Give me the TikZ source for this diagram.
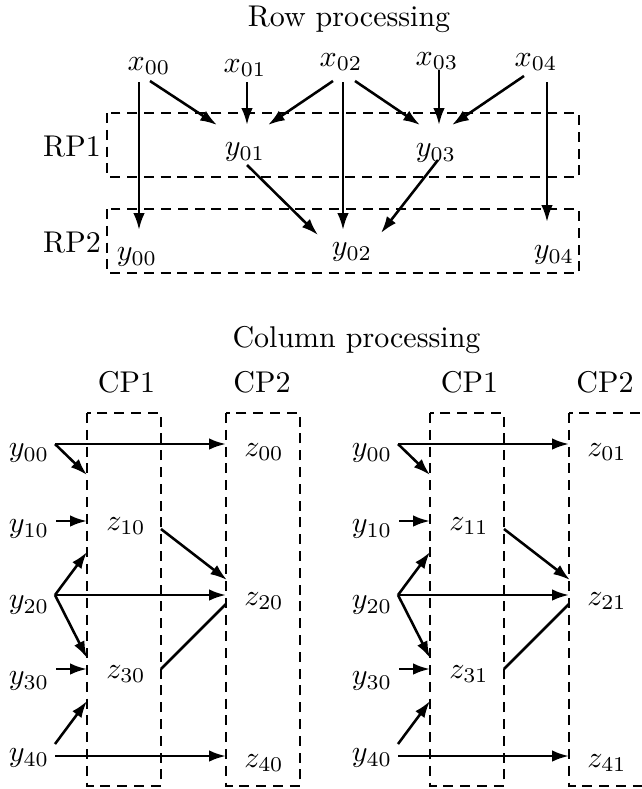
\documentclass[tikz,border=0pt]{standalone}
\usetikzlibrary{arrows.meta}

% One column-processing block: #1 name prefix, #2 horizontal offset, #3 column index
\newcommand\colblock[3]{%
  \node (#1cpa) at ({#2+126.5},382) {CP1};
  \node (#1cpb) at ({#2+262},382) {CP2};
  \draw[group] ({#2+87},413) rectangle ({#2+161},786);
  \draw[group] ({#2+226},413) rectangle ({#2+300},786);
  \node (#1y0) at ({#2+29},453) {$y_{00}$};
  \node (#1y1) at ({#2+29},529) {$y_{10}$};
  \node (#1y2) at ({#2+29},605) {$y_{20}$};
  \node (#1y3) at ({#2+29},681) {$y_{30}$};
  \node (#1y4) at ({#2+29},758) {$y_{40}$};
  \node (#1z0) at ({#2+264},452) {$z_{0#3}$};
  \node (#1z1) at ({#2+126},526) {$z_{1#3}$};
  \node (#1z2) at ({#2+264},601) {$z_{2#3}$};
  \node (#1z3) at ({#2+126},674) {$z_{3#3}$};
  \node (#1z4) at ({#2+264},763) {$z_{4#3}$};
  \draw[flow] ([shift={(26,-9)}]#1y0.center) -- ([shift={(-38,-8)}]#1z0.center);
  \draw[flow] ([shift={(26,-9)}]#1y0.center) -- ([shift={(-39,-51)}]#1z1.center);
  \draw[flow] ([shift={(27,-8)}]#1y1.center) -- ([shift={(-39,-5)}]#1z1.center);
  \draw[flow] ([shift={(26,-10)}]#1y2.center) -- ([shift={(-39,26)}]#1z1.center);
  \draw[flow] ([shift={(26,-10)}]#1y2.center) -- ([shift={(-38,-6)}]#1z2.center);
  \draw[flow] ([shift={(26,-10)}]#1y2.center) -- ([shift={(-39,-16)}]#1z3.center);
  \draw[flow] ([shift={(27,-12)}]#1y3.center) -- ([shift={(-39,-5)}]#1z3.center);
  \draw[flow] ([shift={(26,-14)}]#1y4.center) -- ([shift={(-39,27)}]#1z3.center);
  \draw[flow] ([shift={(26,-2)}]#1y4.center) -- ([shift={(-38,-7)}]#1z4.center);
  \draw[flow] ([shift={(35,3)}]#1z1.center) -- ([shift={(-37,-21)}]#1z2.center);
  \draw[link] ([shift={(35,-5)}]#1z3.center) -- ([shift={(-38,3)}]#1z2.center);
}

\begin{document}
\begin{tikzpicture}[x=0.3333pt,y=-0.3333pt,
  flow/.style={-{Latex[length=5.6pt,width=3.8pt]}, line width=0.85pt},
  link/.style={line width=0.85pt},
  group/.style={dash pattern=on 3.3pt off 2.3pt, line width=0.75pt}]
\useasboundingbox (0,0) rectangle (641,789);

% Row processing stage
\node (rowtitle) at (349,19) {Row processing};
\node (x00) at (149,66) {$x_{00}$};
\node (x01) at (245,68) {$x_{01}$};
\node (x02) at (341,62) {$x_{02}$};
\node (x03) at (437,61) {$x_{03}$};
\node (x04) at (536,62) {$x_{04}$};
\draw[group] (107,113) rectangle (579,177);
\draw[group] (107,209) rectangle (579,273);
\node (rp1) at (72,147) {RP1};
\node (rp2) at (72,243) {RP2};
\node (yr01) at (245,152) {$y_{01}$};
\node (yr03) at (436,153) {$y_{03}$};
\node (yr00) at (137,257) {$y_{00}$};
\node (yr02) at (352,252) {$y_{02}$};
\node (yr04) at (554,255) {$y_{04}$};

\draw[flow] ([shift={(-10,16)}]x00.center) -- ([shift={(2,-27)}]yr00.center);
\draw[flow] ([shift={(1,15)}]x00.center) -- ([shift={(-28,-27)}]yr01.center);
\draw[flow] ([shift={(2,14)}]x01.center) -- ([shift={(2,-27)}]yr01.center);
\draw[flow] ([shift={(-8,19)}]x02.center) -- ([shift={(23,-27)}]yr01.center);
\draw[flow] ([shift={(2,20)}]x02.center) -- ([shift={(-9,-22)}]yr02.center);
\draw[flow] ([shift={(14,19)}]x02.center) -- ([shift={(-16,-28)}]yr03.center);
\draw[flow] ([shift={(2,9)}]x03.center) -- ([shift={(3,-28)}]yr03.center);
\draw[flow] ([shift={(-12,14)}]x04.center) -- ([shift={(16,-28)}]yr03.center);
\draw[flow] ([shift={(11,20)}]x04.center) -- ([shift={(-7,-33)}]yr04.center);
\draw[flow] ([shift={(2,13)}]yr01.center) -- ([shift={(-34,-17)}]yr02.center);
\draw[flow] ([shift={(2,7)}]yr03.center) -- ([shift={(29,-19)}]yr02.center);

% Column processing stage
\node (coltitle) at (356.5,340) {Column processing};
\colblock{L}{0}{0}
\colblock{R}{343}{1}
\end{tikzpicture}
\end{document}
